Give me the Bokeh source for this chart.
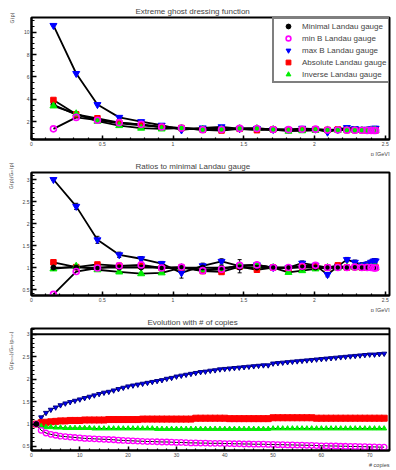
from bokeh.plotting import figure
from bokeh.models import (Title, Legend, LegendItem, Span, Whisker, ColumnDataSource,
                          NumeralTickFormatter, FixedTicker, TeeHead, Range1d)
from bokeh.layouts import column
from bokeh.embed import file_html
from bokeh.resources import INLINE

# ---------------- data ----------------
momenta = [0.155, 0.316, 0.466, 0.620, 0.775, 0.920, 1.060, 1.210, 1.343, 1.471, 1.593, 1.708,
           1.816, 1.913, 2.007, 2.092, 2.165, 2.229, 2.285, 2.335, 2.372, 2.400, 2.420, 2.432]

G_minimal = [3.53, 2.64, 2.17, 1.86, 1.68, 1.56, 1.45, 1.40, 1.37, 1.35, 1.33, 1.32,
             1.31, 1.30, 1.29, 1.28, 1.27, 1.26, 1.25, 1.25, 1.24, 1.24, 1.24, 1.24]
G_minB = [1.38, 2.40, 2.15, 1.93, 1.78, 1.54, 1.46, 1.30, 1.32, 1.42, 1.41, 1.32,
          1.31, 1.34, 1.35, 1.28, 1.27, 1.26, 1.26, 1.25, 1.24, 1.24, 1.23, 1.23]
G_maxB = [10.59, 6.31, 3.54, 2.40, 2.02, 1.70, 1.28, 1.46, 1.56, 1.39, 1.41, 1.32,
          1.31, 1.43, 1.35, 1.08, 1.31, 1.49, 1.40, 1.33, 1.34, 1.39, 1.43, 1.43]
G_absolute = [3.95, 2.67, 2.32, 1.93, 1.75, 1.54, 1.45, 1.29, 1.23, 1.38, 1.26, 1.32,
              1.28, 1.33, 1.32, 1.28, 1.33, 1.26, 1.26, 1.25, 1.25, 1.24, 1.24, 1.24]
G_inverse = [3.42, 2.72, 2.06, 1.67, 1.44, 1.37, 1.45, 1.33, 1.34, 1.40, 1.40, 1.32,
             1.17, 1.21, 1.25, 1.28, 1.26, 1.27, 1.25, 1.25, 1.24, 1.24, 1.24, 1.24]

R_minimal = [1.00] * 24
R_minB = [0.39, 0.91, 0.99, 1.04, 1.06, 0.99, 1.01, 0.93, 0.96, 1.05, 1.06, 1.00,
          1.00, 1.03, 1.05, 1.00, 1.00, 1.00, 1.01, 1.00, 1.00, 1.00, 0.99, 0.99]
R_maxB = [3.00, 2.39, 1.63, 1.29, 1.20, 1.09, 0.88, 1.04, 1.14, 1.03, 1.06, 1.00,
          1.00, 1.10, 1.05, 0.84, 1.03, 1.18, 1.12, 1.06, 1.08, 1.12, 1.15, 1.15]
R_maxB_err = [0.02, 0.07, 0.08, 0.06, 0.05, 0.05, 0.12, 0.06, 0.06, 0.15, 0.05, 0.04,
              0.04, 0.05, 0.05, 0.05, 0.05, 0.05, 0.05, 0.05, 0.05, 0.05, 0.05, 0.05]
R_absolute = [1.12, 1.01, 1.07, 1.04, 1.04, 0.99, 1.00, 0.92, 0.90, 1.02, 0.95, 1.00,
              0.98, 1.02, 1.02, 1.00, 1.05, 1.00, 1.01, 1.00, 1.01, 1.00, 1.00, 1.00]
R_inverse = [0.97, 1.03, 0.95, 0.90, 0.86, 0.88, 1.00, 0.95, 0.98, 1.04, 1.05, 1.00,
             0.89, 0.93, 0.97, 1.00, 0.99, 1.01, 1.00, 1.00, 1.00, 1.00, 1.00, 1.00]

copies = list(range(1, 74))
E_maxB = [1.00, 1.15, 1.25, 1.32, 1.37, 1.42, 1.46, 1.49, 1.52, 1.55,
          1.58, 1.61, 1.64, 1.67, 1.70, 1.72, 1.75, 1.78, 1.81, 1.84,
          1.86, 1.88, 1.90, 1.92, 1.94, 1.96, 1.98, 2.01, 2.03, 2.06,
          2.08, 2.10, 2.12, 2.14, 2.16, 2.17, 2.19, 2.20, 2.22, 2.23,
          2.24, 2.25, 2.26, 2.27, 2.28, 2.29, 2.30, 2.31, 2.31, 2.35,
          2.36, 2.37, 2.38, 2.39, 2.40, 2.41, 2.42, 2.43, 2.44, 2.45,
          2.46, 2.47, 2.48, 2.49, 2.50, 2.51, 2.52, 2.53, 2.54, 2.55,
          2.55, 2.56, 2.57]
E_absolute = [1.00, 1.03, 1.04, 1.05, 1.06, 1.07, 1.07, 1.08, 1.08, 1.08,
              1.09, 1.09, 1.09, 1.09, 1.09, 1.10, 1.10, 1.10, 1.10, 1.10,
              1.10, 1.10, 1.11, 1.11, 1.11, 1.11, 1.11, 1.11, 1.11, 1.11,
              1.11, 1.11, 1.11, 1.13, 1.13, 1.13, 1.13, 1.13, 1.13, 1.13,
              1.12, 1.12, 1.12, 1.12, 1.12, 1.12, 1.12, 1.12, 1.12, 1.14,
              1.14, 1.14, 1.14, 1.14, 1.14, 1.14, 1.14, 1.14, 1.13, 1.13,
              1.13, 1.13, 1.13, 1.13, 1.13, 1.13, 1.13, 1.13, 1.13, 1.13,
              1.13, 1.13, 1.13]
E_inverse = [1.00, 0.95, 0.93, 0.93, 0.92, 0.92, 0.91, 0.91, 0.91, 0.91,
             0.91, 0.91, 0.90, 0.90, 0.90, 0.90, 0.90, 0.90, 0.90, 0.90,
             0.90, 0.90, 0.90, 0.90, 0.90, 0.89, 0.89, 0.89, 0.89, 0.89,
             0.89, 0.89, 0.89, 0.89, 0.89, 0.89, 0.89, 0.89, 0.89, 0.89,
             0.89, 0.89, 0.89, 0.89, 0.89, 0.89, 0.89, 0.89, 0.89, 0.90,
             0.90, 0.90, 0.90, 0.90, 0.90, 0.90, 0.90, 0.90, 0.90, 0.90,
             0.90, 0.90, 0.90, 0.90, 0.90, 0.90, 0.90, 0.90, 0.90, 0.90,
             0.90, 0.90, 0.90]
E_minB = [1.00, 0.86, 0.80, 0.77, 0.75, 0.73, 0.72, 0.71, 0.70, 0.69,
          0.68, 0.675, 0.67, 0.665, 0.66, 0.655, 0.65, 0.64, 0.635, 0.63,
          0.625, 0.62, 0.615, 0.61, 0.61, 0.605, 0.60, 0.60, 0.595, 0.59,
          0.59, 0.585, 0.58, 0.58, 0.575, 0.575, 0.57, 0.57, 0.57, 0.565,
          0.565, 0.56, 0.56, 0.555, 0.555, 0.55, 0.55, 0.55, 0.545, 0.545,
          0.54, 0.54, 0.535, 0.535, 0.53, 0.53, 0.525, 0.525, 0.52, 0.515,
          0.515, 0.51, 0.51, 0.505, 0.505, 0.50, 0.50, 0.495, 0.495, 0.49,
          0.49, 0.485, 0.485]
E_minimal = [1.00]

legend_labels = ["Minimal Landau gauge", "min B Landau gauge", "max B Landau gauge",
                 "Absolute Landau gauge", "Inverse Landau gauge"]
titles = ["Extreme ghost dressing function", "Ratios to minimal Landau gauge",
          "Evolution with # of copies"]
y_titles = ["G(p)", "G(p)/Gₘ(p)", "G(pₘᵢₙ)/Gₘ(pₘᵢₙ)"]
x_titles = ["p [GeV]", "p [GeV]", "# copies"]

p_ticks = [0, 0.5, 1, 1.5, 2, 2.5]
g_ticks = [2, 4, 6, 8, 10]
r_ticks = [0.5, 1, 1.5, 2, 2.5, 3]
c_ticks = [0, 10, 20, 30, 40, 50, 60, 70]

FONT = "Liberation Sans"
W = 396


def frange(a, b, s):
    n = int(round((b - a) / s))
    return [round(a + i * s, 6) for i in range(n + 1)]


def make_fig(h, xr, yr, top, bottom, xt, xminor, yt, yminor, title, t_off,
             xt_text, yt_text, y_off):
    p = figure(width=W, height=h, x_range=Range1d(*xr), y_range=Range1d(*yr),
               output_backend="svg", toolbar_location=None,
               min_border_left=31, min_border_right=7,
               min_border_top=top, min_border_bottom=bottom)
    p.grid.visible = False
    p.outline_line_color = "black"
    p.outline_line_width = 2
    p.background_fill_color = "white"
    p.border_fill_color = "white"
    p.xaxis.ticker = FixedTicker(ticks=xt, minor_ticks=xminor)
    p.yaxis.ticker = FixedTicker(ticks=yt, minor_ticks=yminor)
    for ax in (p.xaxis, p.yaxis):
        ax.axis_line_width = 2
        ax.major_tick_out = 0
        ax.minor_tick_out = 0
        ax.major_tick_line_width = 1.5
        ax.minor_tick_line_width = 1.2
        ax.major_label_text_font = FONT
        ax.major_label_text_font_size = "5px"
        ax.major_label_standoff = 2
        ax.formatter = NumeralTickFormatter(format="0.[0]")
    p.yaxis.major_tick_in = 5
    p.yaxis.minor_tick_in = 3
    p.xaxis.major_tick_in = 4
    p.xaxis.minor_tick_in = 2
    p.title.text = title
    p.title.align = "left"
    p.title.offset = t_off
    p.title.standoff = 4
    p.title.text_font = FONT
    p.title.text_font_size = "8px"
    p.title.text_font_style = "normal"
    p.add_layout(Title(text=xt_text, align="right", standoff=0, text_font=FONT,
                       text_font_size="5.5px", text_font_style="normal"), "below")
    p.add_layout(Title(text=yt_text, align="right", standoff=11, offset=y_off,
                       text_font="DejaVu Sans", text_font_size="5px",
                       text_font_style="normal"), "left")
    return p


styles = {
    "minimal": dict(marker="circle", size=5, fill_color="black", line_color="black"),
    "minB": dict(marker="circle", size=6, fill_alpha=0, line_color="#ff00ff", line_width=1.6),
    "maxB": dict(marker="inverted_triangle", size=7, fill_color="#0000ff", line_color="#0000ff"),
    "absolute": dict(marker="square", size=5.5, fill_color="#ff0000", line_color="#ff0000"),
    "inverse": dict(marker="triangle", size=7, fill_color="#00ee00", line_color="#00ee00"),
}
order = ["minimal", "maxB", "absolute", "inverse", "minB"]

# ---------------- panel 1 ----------------
p1 = make_fig(156, (0, 2.53), (0.43, 11.3), 17, 14, p_ticks, frange(0, 2.5, 0.1),
              g_ticks, frange(0.5, 11, 0.5), titles[0], 104, x_titles[0], y_titles[0], -5)
series1 = {"minimal": G_minimal, "minB": G_minB, "maxB": G_maxB,
           "absolute": G_absolute, "inverse": G_inverse}
for k, ys in series1.items():
    p1.line(momenta, ys, line_color="black", line_width=1.8)
rend1 = {}
for k in order:
    rend1[k] = p1.scatter(momenta, series1[k], **styles[k])

legend = Legend(items=[LegendItem(label=legend_labels[0], renderers=[rend1["minimal"]]),
                       LegendItem(label=legend_labels[1], renderers=[rend1["minB"]]),
                       LegendItem(label=legend_labels[2], renderers=[rend1["maxB"]]),
                       LegendItem(label=legend_labels[3], renderers=[rend1["absolute"]]),
                       LegendItem(label=legend_labels[4], renderers=[rend1["inverse"]])],
                location=(241, 56), padding=1, spacing=0, margin=0,
                glyph_width=26, glyph_height=12, label_height=12, label_standoff=1,
                label_text_font=FONT, label_text_font_size="8px",
                border_line_color="black", border_line_width=2,
                background_fill_color="white", background_fill_alpha=1)
p1.add_layout(legend)

# ---------------- panel 2 ----------------
p2 = make_fig(156, (0, 2.53), (0.365, 3.16), 16, 16, p_ticks, frange(0, 2.5, 0.1),
              r_ticks, frange(0.4, 3.1, 0.1), titles[1], 104, x_titles[1], y_titles[1], -10)
series2 = {"minimal": R_minimal, "minB": R_minB, "maxB": R_maxB,
           "absolute": R_absolute, "inverse": R_inverse}
for k, ys in series2.items():
    p2.line(momenta, ys, line_color="black", line_width=1.8)
err_src = ColumnDataSource(dict(x=momenta,
                                lo=[v - e for v, e in zip(R_maxB, R_maxB_err)],
                                hi=[v + e for v, e in zip(R_maxB, R_maxB_err)]))
p2.add_layout(Whisker(source=err_src, base="x", lower="lo", upper="hi",
                      line_color="black", line_width=1,
                      upper_head=TeeHead(size=4, line_color="black", line_width=1),
                      lower_head=TeeHead(size=4, line_color="black", line_width=1)))
for k in ["maxB", "absolute", "inverse", "minimal", "minB"]:
    p2.scatter(momenta, series2[k], **styles[k])

# ---------------- panel 3 ----------------
p3 = make_fig(158, (0, 74.1), (0.41, 3.13), 16, 20, c_ticks, frange(0, 74, 2),
              r_ticks, frange(0.5, 3.1, 0.1), titles[2], 116, x_titles[2], y_titles[2], 3)
p3.add_layout(Span(location=3, dimension="width", line_color="black", line_width=2))
styles3 = {
    "maxB": dict(marker="inverted_triangle", size=5, fill_color="#0000ff", line_color="#000080"),
    "absolute": dict(marker="square", size=6, fill_color="#ff0000", line_color="#ff0000"),
    "inverse": dict(marker="triangle", size=5, fill_color="#00ee00", line_color="#00ee00"),
    "minB": dict(marker="circle", size=5.5, fill_alpha=0, line_color="#ff00ff", line_width=1.3),
}
series3 = {"maxB": E_maxB, "absolute": E_absolute, "inverse": E_inverse, "minB": E_minB}
for k, ys in series3.items():
    p3.line(copies, ys, line_color="black", line_width=1)
    p3.scatter(copies, ys, **styles3[k])
p3.scatter(copies[:1], E_minimal, **styles["minimal"])

layout = column(p1, p2, p3, spacing=0)
open("out.html", "w").write(file_html(layout, INLINE))
